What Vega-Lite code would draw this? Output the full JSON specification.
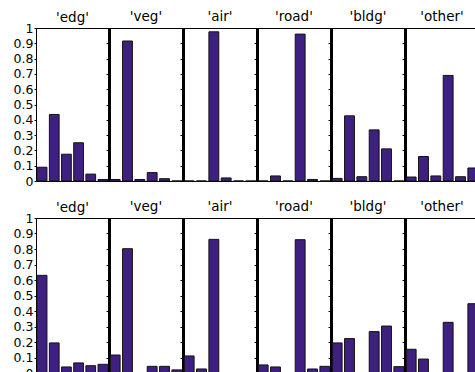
{
  "$schema": "https://vega.github.io/schema/vega-lite/v6.json",
  "background": "white",
  "padding": {"left": 12, "top": 9, "right": 0, "bottom": 0},
  "spacing": 11,
  "data": {
    "values": [
      {"r": 1, "c": "edg", "i": 1, "v": 0.09}, {"r": 1, "c": "edg", "i": 2, "v": 0.435}, {"r": 1, "c": "edg", "i": 3, "v": 0.175},
      {"r": 1, "c": "edg", "i": 4, "v": 0.25}, {"r": 1, "c": "edg", "i": 5, "v": 0.045}, {"r": 1, "c": "edg", "i": 6, "v": 0.01},
      {"r": 1, "c": "veg", "i": 1, "v": 0.01}, {"r": 1, "c": "veg", "i": 2, "v": 0.915}, {"r": 1, "c": "veg", "i": 3, "v": 0.01},
      {"r": 1, "c": "veg", "i": 4, "v": 0.055}, {"r": 1, "c": "veg", "i": 5, "v": 0.015}, {"r": 1, "c": "veg", "i": 6, "v": 0},
      {"r": 1, "c": "air", "i": 1, "v": 0}, {"r": 1, "c": "air", "i": 2, "v": 0}, {"r": 1, "c": "air", "i": 3, "v": 0.975},
      {"r": 1, "c": "air", "i": 4, "v": 0.02}, {"r": 1, "c": "air", "i": 5, "v": 0}, {"r": 1, "c": "air", "i": 6, "v": 0},
      {"r": 1, "c": "road", "i": 1, "v": 0}, {"r": 1, "c": "road", "i": 2, "v": 0.033}, {"r": 1, "c": "road", "i": 3, "v": 0},
      {"r": 1, "c": "road", "i": 4, "v": 0.96}, {"r": 1, "c": "road", "i": 5, "v": 0.01}, {"r": 1, "c": "road", "i": 6, "v": 0},
      {"r": 1, "c": "bldg", "i": 1, "v": 0.017}, {"r": 1, "c": "bldg", "i": 2, "v": 0.426}, {"r": 1, "c": "bldg", "i": 3, "v": 0.028},
      {"r": 1, "c": "bldg", "i": 4, "v": 0.334}, {"r": 1, "c": "bldg", "i": 5, "v": 0.21}, {"r": 1, "c": "bldg", "i": 6, "v": 0},
      {"r": 1, "c": "other", "i": 1, "v": 0.026}, {"r": 1, "c": "other", "i": 2, "v": 0.16}, {"r": 1, "c": "other", "i": 3, "v": 0.033},
      {"r": 1, "c": "other", "i": 4, "v": 0.69}, {"r": 1, "c": "other", "i": 5, "v": 0.028}, {"r": 1, "c": "other", "i": 6, "v": 0.085},
      {"r": 2, "c": "edg", "i": 1, "v": 0.63}, {"r": 2, "c": "edg", "i": 2, "v": 0.194}, {"r": 2, "c": "edg", "i": 3, "v": 0.039},
      {"r": 2, "c": "edg", "i": 4, "v": 0.065}, {"r": 2, "c": "edg", "i": 5, "v": 0.047}, {"r": 2, "c": "edg", "i": 6, "v": 0.056},
      {"r": 2, "c": "veg", "i": 1, "v": 0.116}, {"r": 2, "c": "veg", "i": 2, "v": 0.802}, {"r": 2, "c": "veg", "i": 3, "v": 0},
      {"r": 2, "c": "veg", "i": 4, "v": 0.043}, {"r": 2, "c": "veg", "i": 5, "v": 0.043}, {"r": 2, "c": "veg", "i": 6, "v": 0.02},
      {"r": 2, "c": "air", "i": 1, "v": 0.11}, {"r": 2, "c": "air", "i": 2, "v": 0.026}, {"r": 2, "c": "air", "i": 3, "v": 0.862},
      {"r": 2, "c": "air", "i": 4, "v": 0}, {"r": 2, "c": "air", "i": 5, "v": 0}, {"r": 2, "c": "air", "i": 6, "v": 0},
      {"r": 2, "c": "road", "i": 1, "v": 0.052}, {"r": 2, "c": "road", "i": 2, "v": 0.039}, {"r": 2, "c": "road", "i": 3, "v": 0},
      {"r": 2, "c": "road", "i": 4, "v": 0.86}, {"r": 2, "c": "road", "i": 5, "v": 0.026}, {"r": 2, "c": "road", "i": 6, "v": 0.043},
      {"r": 2, "c": "bldg", "i": 1, "v": 0.194}, {"r": 2, "c": "bldg", "i": 2, "v": 0.222}, {"r": 2, "c": "bldg", "i": 3, "v": 0},
      {"r": 2, "c": "bldg", "i": 4, "v": 0.267}, {"r": 2, "c": "bldg", "i": 5, "v": 0.303}, {"r": 2, "c": "bldg", "i": 6, "v": 0.041},
      {"r": 2, "c": "other", "i": 1, "v": 0.153}, {"r": 2, "c": "other", "i": 2, "v": 0.09}, {"r": 2, "c": "other", "i": 3, "v": 0},
      {"r": 2, "c": "other", "i": 4, "v": 0.327}, {"r": 2, "c": "other", "i": 5, "v": 0}, {"r": 2, "c": "other", "i": 6, "v": 0.447}
    ]
  },
  "vconcat": [
    {
      "spacing": 0,
      "bounds": "flush",
      "hconcat": [
        {"title": {"text": "'edg'", "offset": -2}, "width": 73, "height": 153, "transform": [{"filter": "datum.r == 1 && datum.c == 'edg'"}], "mark": "bar",
         "encoding": {"x": {"field": "i", "type": "ordinal", "axis": null}, "y": {"field": "v", "type": "quantitative", "title": null, "scale": {"domain": [0, 1]}}}},
        {"title": "'veg'", "width": 74, "height": 153, "transform": [{"filter": "datum.r == 1 && datum.c == 'veg'"}], "mark": "bar",
         "encoding": {"x": {"field": "i", "type": "ordinal", "axis": null}, "y": {"field": "v", "type": "quantitative", "title": null, "scale": {"domain": [0, 1]}, "axis": {"labels": false, "domainWidth": 3, "tickSize": 3}}}},
        {"title": "'air'", "width": 74, "height": 153, "transform": [{"filter": "datum.r == 1 && datum.c == 'air'"}], "mark": "bar",
         "encoding": {"x": {"field": "i", "type": "ordinal", "axis": null}, "y": {"field": "v", "type": "quantitative", "title": null, "scale": {"domain": [0, 1]}, "axis": {"labels": false, "domainWidth": 3, "tickSize": 3}}}},
        {"title": "'road'", "width": 74, "height": 153, "transform": [{"filter": "datum.r == 1 && datum.c == 'road'"}], "mark": "bar",
         "encoding": {"x": {"field": "i", "type": "ordinal", "axis": null}, "y": {"field": "v", "type": "quantitative", "title": null, "scale": {"domain": [0, 1]}, "axis": {"labels": false, "domainWidth": 3, "tickSize": 3}}}},
        {"title": "'bldg'", "width": 74, "height": 153, "transform": [{"filter": "datum.r == 1 && datum.c == 'bldg'"}], "mark": "bar",
         "encoding": {"x": {"field": "i", "type": "ordinal", "axis": null}, "y": {"field": "v", "type": "quantitative", "title": null, "scale": {"domain": [0, 1]}, "axis": {"labels": false, "domainWidth": 3, "tickSize": 3}}}},
        {"title": "'other'", "width": 74, "height": 153, "transform": [{"filter": "datum.r == 1 && datum.c == 'other'"}], "mark": "bar",
         "encoding": {"x": {"field": "i", "type": "ordinal", "axis": null}, "y": {"field": "v", "type": "quantitative", "title": null, "scale": {"domain": [0, 1]}, "axis": {"labels": false, "domainWidth": 3, "tickSize": 3}}}}
      ]
    },
    {
      "spacing": 0,
      "bounds": "flush",
      "hconcat": [
        {"title": {"text": "'edg'", "offset": -2}, "width": 73, "height": 155, "transform": [{"filter": "datum.r == 2 && datum.c == 'edg'"}], "mark": "bar",
         "encoding": {"x": {"field": "i", "type": "ordinal", "axis": null}, "y": {"field": "v", "type": "quantitative", "title": null, "scale": {"domain": [0, 1]}}}},
        {"title": "'veg'", "width": 74, "height": 155, "transform": [{"filter": "datum.r == 2 && datum.c == 'veg'"}], "mark": "bar",
         "encoding": {"x": {"field": "i", "type": "ordinal", "axis": null}, "y": {"field": "v", "type": "quantitative", "title": null, "scale": {"domain": [0, 1]}, "axis": {"labels": false, "domainWidth": 3, "tickSize": 3}}}},
        {"title": "'air'", "width": 74, "height": 155, "transform": [{"filter": "datum.r == 2 && datum.c == 'air'"}], "mark": "bar",
         "encoding": {"x": {"field": "i", "type": "ordinal", "axis": null}, "y": {"field": "v", "type": "quantitative", "title": null, "scale": {"domain": [0, 1]}, "axis": {"labels": false, "domainWidth": 3, "tickSize": 3}}}},
        {"title": "'road'", "width": 74, "height": 155, "transform": [{"filter": "datum.r == 2 && datum.c == 'road'"}], "mark": "bar",
         "encoding": {"x": {"field": "i", "type": "ordinal", "axis": null}, "y": {"field": "v", "type": "quantitative", "title": null, "scale": {"domain": [0, 1]}, "axis": {"labels": false, "domainWidth": 3, "tickSize": 3}}}},
        {"title": "'bldg'", "width": 74, "height": 155, "transform": [{"filter": "datum.r == 2 && datum.c == 'bldg'"}], "mark": "bar",
         "encoding": {"x": {"field": "i", "type": "ordinal", "axis": null}, "y": {"field": "v", "type": "quantitative", "title": null, "scale": {"domain": [0, 1]}, "axis": {"labels": false, "domainWidth": 3, "tickSize": 3}}}},
        {"title": "'other'", "width": 74, "height": 155, "transform": [{"filter": "datum.r == 2 && datum.c == 'other'"}], "mark": "bar",
         "encoding": {"x": {"field": "i", "type": "ordinal", "axis": null}, "y": {"field": "v", "type": "quantitative", "title": null, "scale": {"domain": [0, 1]}, "axis": {"labels": false, "domainWidth": 3, "tickSize": 3}}}}
      ]
    }
  ],
  "config": {
    "view": {"stroke": "black", "strokeWidth": 1},
    "bar": {"fill": "#3E2080", "stroke": "#111111", "strokeWidth": 1},
    "scale": {"bandPaddingInner": 0.2, "bandPaddingOuter": 0.1},
    "axisY": {
      "grid": false,
      "domainColor": "black",
      "tickColor": "black",
      "tickSize": 2,
      "tickCount": 10,
      "labelPadding": 1,
      "labelOverlap": false,
      "labelColor": "black",
      "labelFont": "DejaVu Sans",
      "labelFontSize": 12.5,
      "format": "~g"
    },
    "title": {"font": "DejaVu Sans", "fontSize": 13.5, "fontWeight": "normal", "color": "black", "anchor": "middle", "frame": "group", "offset": 4}
  }
}
